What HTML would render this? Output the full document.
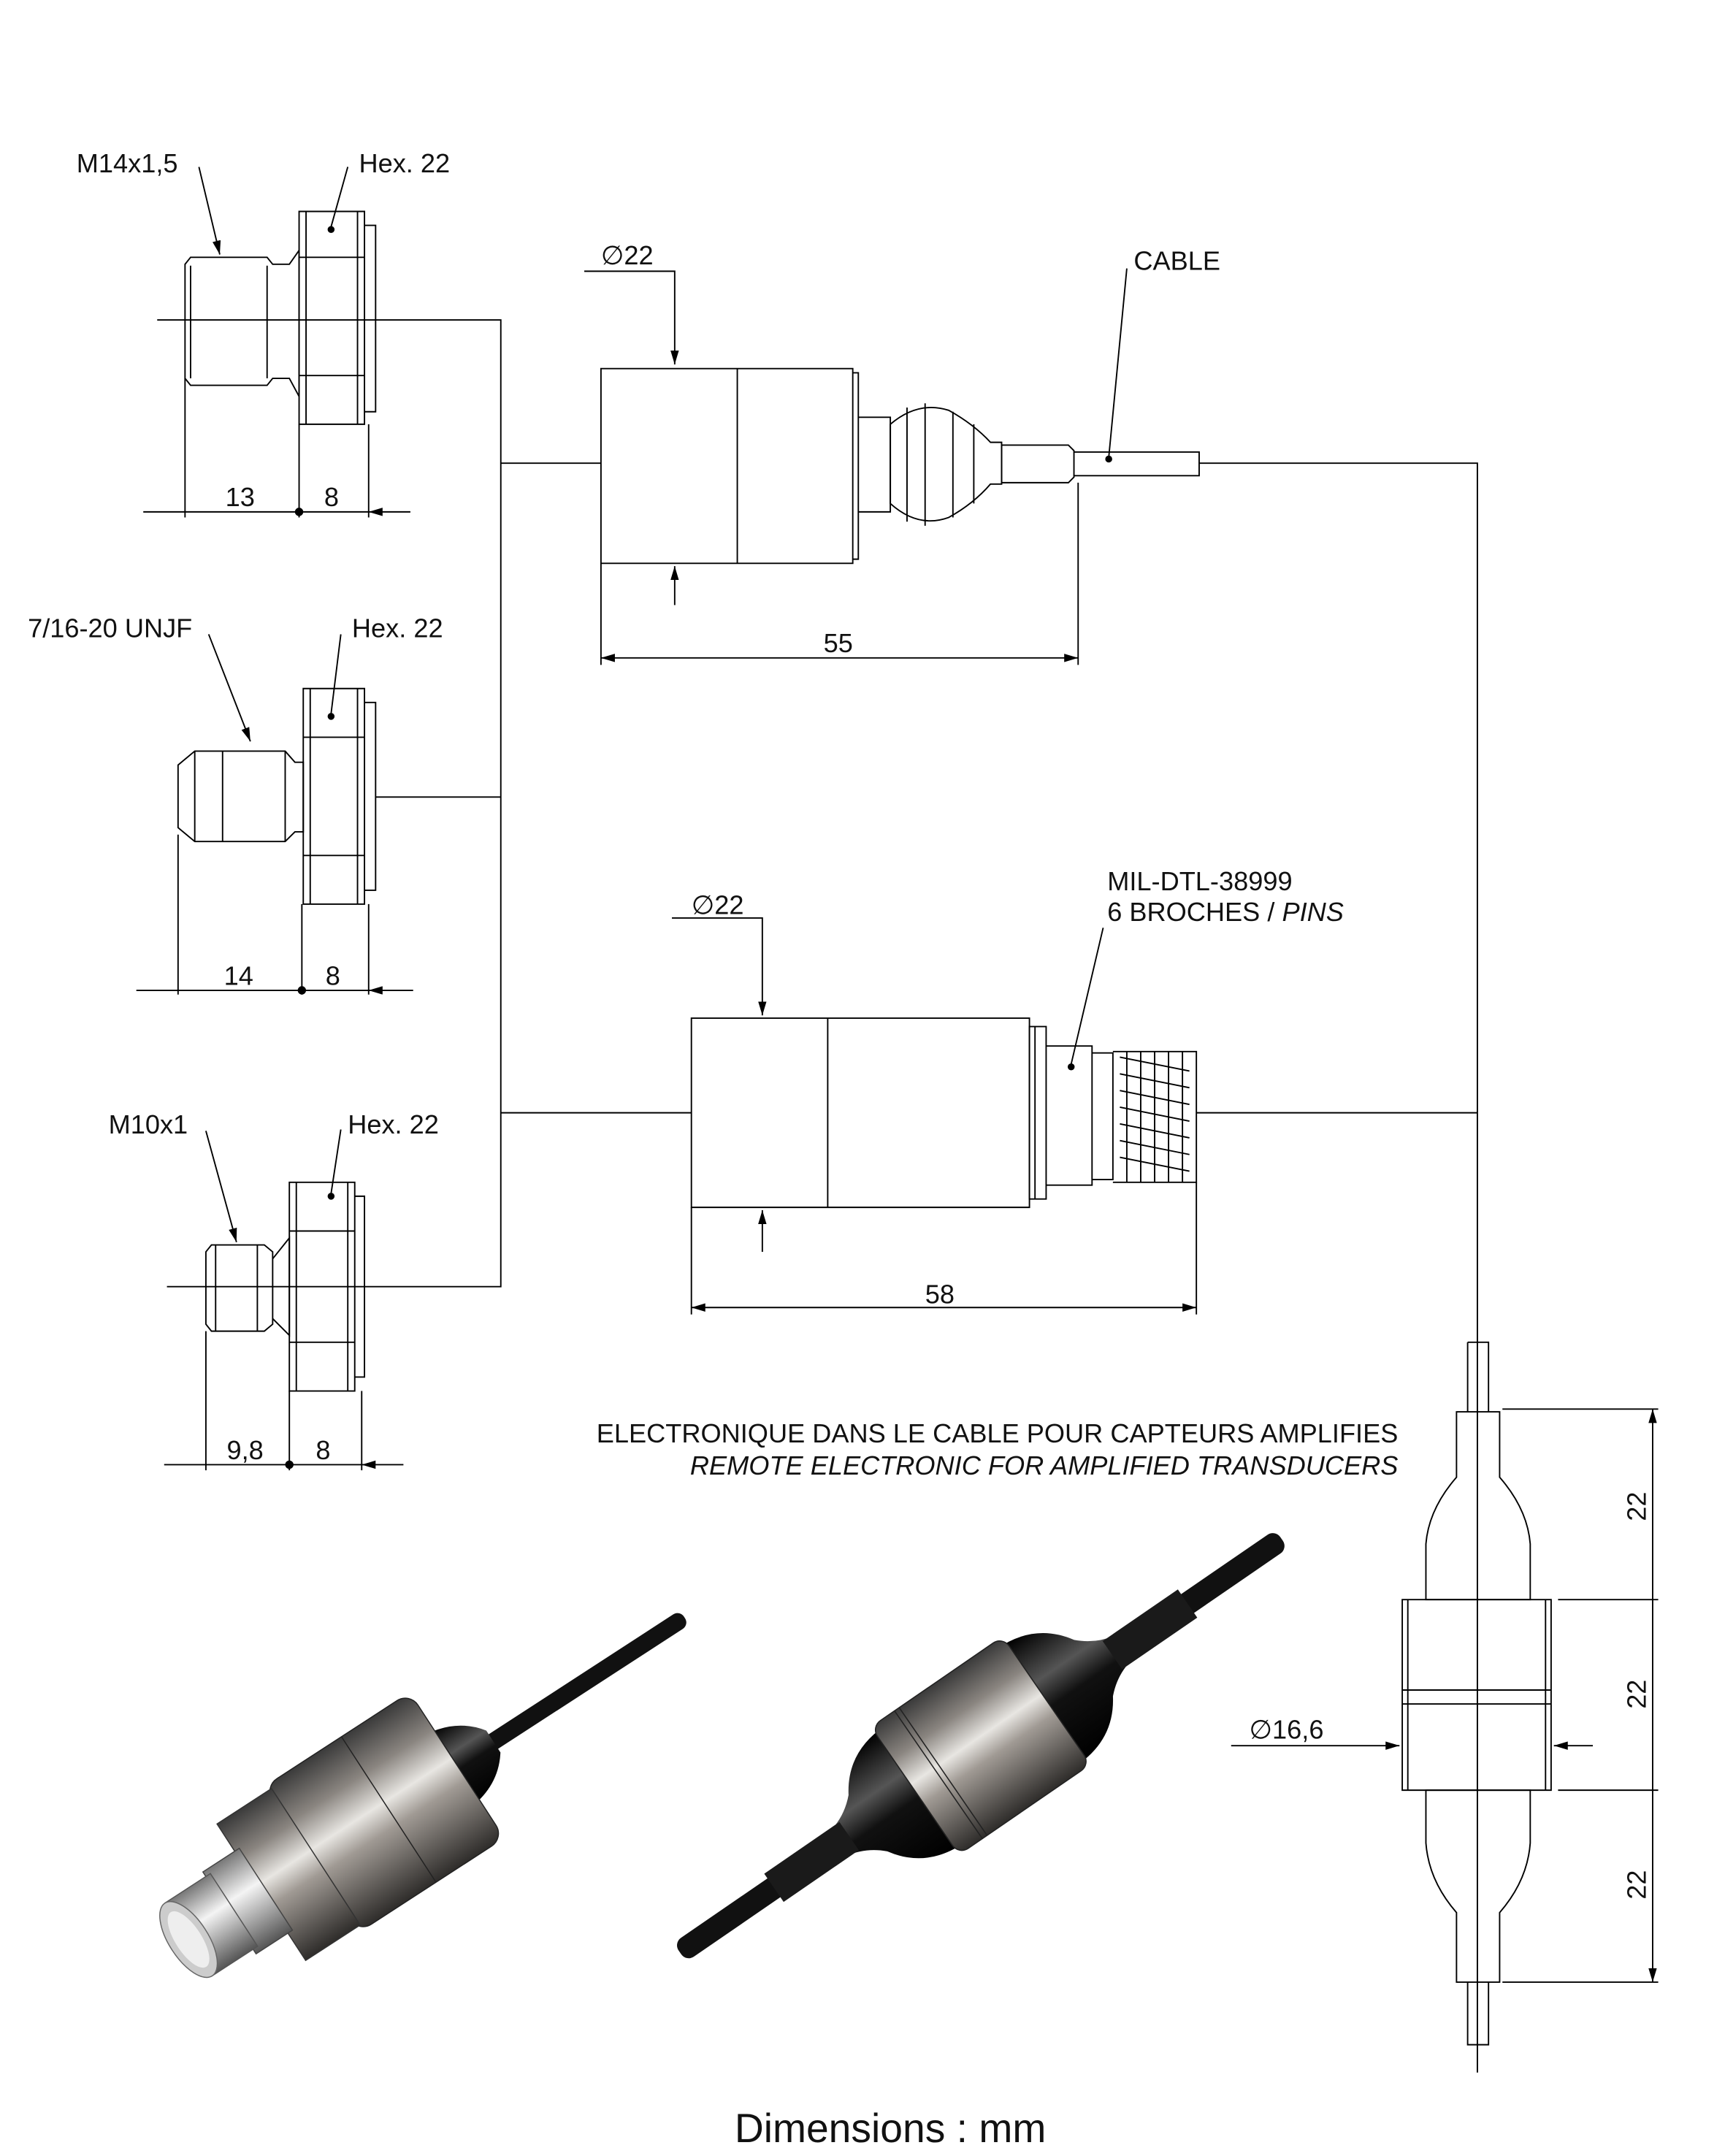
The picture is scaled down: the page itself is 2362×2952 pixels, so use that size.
<!DOCTYPE html>
<html><head><meta charset="utf-8"><style>
html,body{margin:0;padding:0;background:#fff}
svg{display:block}
text{font-family:"Liberation Sans","DejaVu Sans",sans-serif;fill:#111}
</style></head><body>
<svg width="2362" height="2952" viewBox="0 0 1240 1550" preserveAspectRatio="none" xmlns="http://www.w3.org/2000/svg">
<defs>
<marker id="a" viewBox="0 0 10 6" refX="10" refY="3" markerWidth="10" markerHeight="6" orient="auto-start-reverse" markerUnits="userSpaceOnUse"><path d="M0,0L10,3L0,6z" fill="#000"/></marker>
<linearGradient id="met" x1="0" y1="0" x2="0" y2="1">
<stop offset="0" stop-color="#3a3a3a"/><stop offset="0.25" stop-color="#8a8580"/><stop offset="0.45" stop-color="#e8e6e2"/><stop offset="0.6" stop-color="#a09a94"/><stop offset="1" stop-color="#2e2c2a"/></linearGradient>
<linearGradient id="blk" x1="0" y1="0" x2="0" y2="1">
<stop offset="0" stop-color="#000"/><stop offset="0.35" stop-color="#555"/><stop offset="0.55" stop-color="#111"/><stop offset="1" stop-color="#000"/></linearGradient>
<linearGradient id="shiny" x1="0" y1="0" x2="0" y2="1">
<stop offset="0" stop-color="#777"/><stop offset="0.4" stop-color="#f4f4f4"/><stop offset="1" stop-color="#555"/></linearGradient>
</defs>
<g fill="none" stroke="#000" stroke-width="1">
<path d="M113,230H360V925H120"/>
<path d="M270,573H360"/>
<path d="M360,333H432M862,333H1062V1490"/>
<path d="M360,800H497M860,800H1062"/>
<path d="M137,185H192L196,190H208L215,180V285L208,272H196L192,277H137L133,272V190Z"/>
<path d="M137,191V272M192,191V272"/>
<path d="M215,152H262V305H215ZM215,185H262M215,270H262M220,152V305M257,152V305M262,162H270V296H262"/>
<path d="M133,272V372M215,305V372M265,305V372"/>
<path d="M103,368H133M295,368H265" marker-end="url(#a)"/><path d="M133,368H265"/>
<circle cx="215" cy="368" r="2.5" fill="#000"/>
<path d="M143,120L158,183" marker-end="url(#a)"/>
<path d="M250,120L238,163"/><circle cx="238" cy="165" r="2" fill="#000"/>
<path d="M128,550L140,540H205L212,548H218V598H212L205,605H140L128,595Z"/>
<path d="M140,540V605M160,540V605M205,540V605"/>
<path d="M218,495H262V650H218ZM218,530H262M218,615H262M223,495V650M257,495V650M262,505H270V640H262"/>
<path d="M128,600V715M217,650V715M265,650V715"/>
<path d="M98,712H128M297,712H265" marker-end="url(#a)"/><path d="M128,712H265"/>
<circle cx="217" cy="712" r="2.5" fill="#000"/>
<path d="M150,456L180,533" marker-end="url(#a)"/>
<path d="M245,456L238,513"/><circle cx="238" cy="515" r="2" fill="#000"/>
<path d="M152,895H190L196,900V952L190,957H152L148,952V900Z"/>
<path d="M155,895V957M185,895V957M196,905L208,890V960L196,948"/>
<path d="M208,850H255V1000H208ZM208,885H255M208,965H255M213,850V1000M250,850V1000M255,860H262V990H255"/>
<path d="M148,957V1057M208,1000V1057M260,1000V1057"/>
<path d="M118,1053H148M290,1053H260" marker-end="url(#a)"/><path d="M148,1053H260"/>
<circle cx="208" cy="1053" r="2.5" fill="#000"/>
<path d="M148,813L170,893" marker-end="url(#a)"/>
<path d="M245,812L238,858"/><circle cx="238" cy="860" r="2" fill="#000"/>
<path d="M432,265H613V405H432ZM530,265V405M613,268H617V402H613"/>
<path d="M617,300H640V368H617"/>
<path d="M640,305Q660,288 682,295Q700,305 712,318H720V348H712Q700,362 682,372Q660,380 640,362Z"/>
<path d="M652,293V375M665,290V378M685,296V372M700,305V362"/>
<path d="M720,320H768L772,324V343L768,347H720Z"/>
<path d="M772,325H862V342H772"/>
<path d="M420,195H485V262" marker-end="url(#a)"/>
<path d="M485,435V407" marker-end="url(#a)"/>
<path d="M432,405V478M775,347V478"/>
<path d="M432,473H775" marker-start="url(#a)" marker-end="url(#a)"/>
<path d="M810,193L797,329"/><circle cx="797" cy="330" r="2" fill="#000"/>
<path d="M497,732H740V868H497ZM595,732V868"/>
<path d="M740,738H752V862H740ZM744,738V862"/>
<path d="M752,752H785V852H752"/>
<path d="M785,757H800V848H785"/>
<path d="M800,756H860V850H800"/>
<path d="M805,760L855,770M805,772L855,782M805,784L855,794M805,796L855,806M805,808L855,818M805,820L855,830M805,832L855,842"/>
<path d="M810,756V850M820,756V850M830,756V850M840,756V850M850,756V850"/>
<path d="M483,660H548V730" marker-end="url(#a)"/>
<path d="M548,900V870" marker-end="url(#a)"/>
<path d="M497,868V945M860,850V945"/>
<path d="M497,940H860" marker-start="url(#a)" marker-end="url(#a)"/>
<path d="M793,667L770,765"/><circle cx="770" cy="767" r="2" fill="#000"/>
<path d="M1055,965H1070V1015M1055,965V1015"/>
<path d="M1047,1015H1078V1062Q1098,1085 1100,1110V1150H1025V1110Q1027,1085 1047,1062Z"/>
<path d="M1008,1150H1115V1287H1008ZM1008,1215H1115M1008,1225H1115M1012,1150V1287M1111,1150V1287"/>
<path d="M1025,1287H1100V1325Q1098,1352 1078,1375V1425H1047V1375Q1027,1352 1025,1325Z"/>
<path d="M1055,1425V1470H1070V1425"/>
<path d="M1080,1013H1192M1120,1150H1192M1120,1287H1192M1080,1425H1192"/>
<path d="M1188,1013V1150M1188,1150V1287M1188,1287V1425" marker-start="url(#a)" marker-end="url(#a)"/>
<path d="M885,1255H1006" marker-end="url(#a)"/>
<path d="M1145,1255H1117" marker-end="url(#a)"/>
</g>
<g font-size="19">
<text x="55" y="124">M14x1,5</text>
<text x="258" y="124">Hex. 22</text>
<text x="20" y="458">7/16-20 UNJF</text>
<text x="253" y="458">Hex. 22</text>
<text x="78" y="815">M10x1</text>
<text x="250" y="815">Hex. 22</text>
<text x="162" y="364">13</text><text x="233" y="364">8</text>
<text x="161" y="708">14</text><text x="234" y="708">8</text>
<text x="163" y="1049">9,8</text><text x="227" y="1049">8</text>
<text x="432" y="190">∅22</text>
<text x="815" y="194">CABLE</text>
<text x="592" y="469">55</text>
<text x="497" y="657">∅22</text>
<text x="796" y="640">MIL-DTL-38999</text>
<text x="796" y="662">6 BROCHES / <tspan font-style="italic">PINS</tspan></text>
<text x="665" y="937">58</text>
<text x="1005" y="1037" text-anchor="end">ELECTRONIQUE DANS LE CABLE POUR CAPTEURS AMPLIFIES</text>
<text x="1005" y="1060" text-anchor="end" font-style="italic">REMOTE ELECTRONIC FOR AMPLIFIED TRANSDUCERS</text>
<text x="898" y="1250">∅16,6</text>
<text transform="translate(1183,1083) rotate(-90)" text-anchor="middle">22</text>
<text transform="translate(1183,1218) rotate(-90)" text-anchor="middle">22</text>
<text transform="translate(1183,1355) rotate(-90)" text-anchor="middle">22</text>
</g>
<text x="640" y="1540" font-size="29" text-anchor="middle">Dimensions : mm</text>
<g transform="translate(250,1320) rotate(-33) scale(0.78)">
<rect x="150" y="-8" width="220" height="16" rx="7" fill="#111"/>
<path d="M100,-40Q140,-40 160,-12V12Q140,40 100,40Z" fill="url(#blk)"/>
<rect x="-40" y="-80" width="160" height="160" rx="14" fill="url(#met)" stroke="#222" stroke-width="1"/>
<path d="M45,-80V80" stroke="#222"/>
<rect x="-95" y="-75" width="60" height="150" fill="url(#met)" stroke="#333"/>
<rect x="-130" y="-45" width="40" height="90" fill="url(#shiny)" stroke="#444"/>
<rect x="-175" y="-40" width="50" height="80" fill="url(#shiny)" stroke="#555"/>
<ellipse cx="-175" cy="0" rx="18" ry="40" fill="#ccc" stroke="#666"/>
<ellipse cx="-175" cy="0" rx="12" ry="30" fill="#eee"/>
</g>
<g transform="translate(705,1255) rotate(-34.5) scale(0.82)">
<rect x="-320" y="-10" width="640" height="20" rx="8" fill="#111"/>
<path d="M-60,-62Q-100,-62 -120,-30Q-140,-10 -170,-12V12Q-140,10 -120,30Q-100,62 -60,62Z" fill="url(#blk)"/>
<path d="M60,-62Q100,-62 120,-30Q140,-10 170,-12V12Q140,10 120,30Q100,62 60,62Z" fill="url(#blk)"/>
<rect x="-220" y="-15" width="80" height="30" fill="#1a1a1a"/>
<rect x="140" y="-15" width="80" height="30" fill="#1a1a1a"/>
<rect x="-70" y="-68" width="140" height="136" rx="10" fill="url(#met)" stroke="#222"/>
<path d="M-45,-68V68M-40,-68V68" stroke="#222"/>
</g>
</svg>
</body></html>
